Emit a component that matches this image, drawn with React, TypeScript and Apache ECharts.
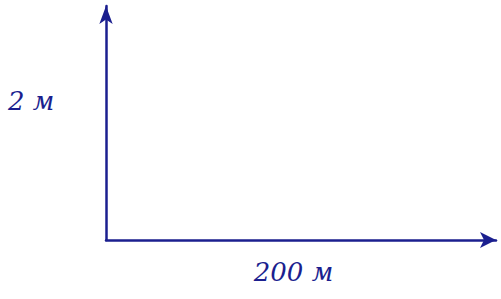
import React, { useEffect, useRef } from "react";
import * as echarts from "echarts";

const xLabel = "200 м";
const yLabel = "2 м";
const xRange = [0, 200];
const yRange = [0, 2];

const ink = "#1b1f8f";
const labelFont = { color: ink, fontSize: 26, fontFamily: "DejaVu Serif", fontStyle: "italic" };

export default function App() {
  const ref = useRef<HTMLDivElement>(null);
  useEffect(() => {
    const chart = echarts.init(ref.current!, null, { renderer: "svg" });
    chart.setOption({
      animation: false,
      backgroundColor: "#ffffff",
      grid: { left: 106, right: 5, top: 6, bottom: 59, outerBoundsMode: "none", containLabel: false },
      graphic: [
        {
          type: "text",
          left: 8,
          top: 88,
          style: { text: yLabel, fill: ink, font: "italic 26px 'DejaVu Serif'" },
        },
      ],
      xAxis: {
        type: "value",
        min: xRange[0],
        max: xRange[1],
        name: xLabel,
        nameLocation: "middle",
        nameGap: 19,
        nameTextStyle: { ...labelFont, padding: [0, 15, 0, 0] },
        axisLine: { show: true, symbol: ["none", "arrow"], symbolSize: [12, 16], lineStyle: { color: ink, width: 2.5 } },
        axisTick: { show: false },
        axisLabel: { show: false },
        splitLine: { show: false },
      },
      yAxis: {
        type: "value",
        min: yRange[0],
        max: yRange[1],
        axisLine: { show: true, symbol: ["none", "arrow"], symbolSize: [10, 18], lineStyle: { color: ink, width: 2.5 } },
        axisTick: { show: false },
        axisLabel: { show: false },
        splitLine: { show: false },
      },
      series: [],
    });
    return () => chart.dispose();
  }, []);
  return <div ref={ref} style={{ width: 501, height: 299, position: "fixed", left: 0, top: 0 }} />;
}
